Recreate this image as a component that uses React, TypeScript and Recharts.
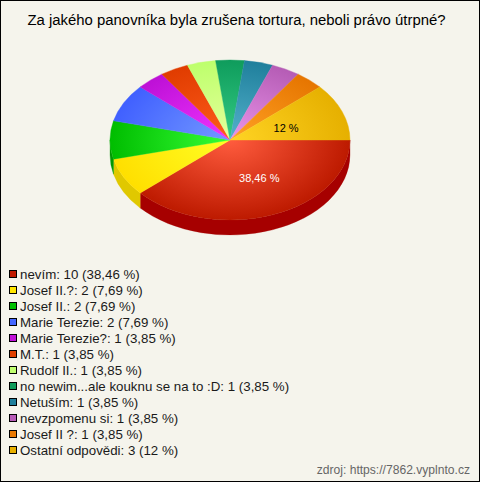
import { Legend, Pie, PieChart } from "recharts";

const answers = [
  "nevím",
  "Josef II.?",
  "Josef II.",
  "Marie Terezie",
  "Marie Terezie?",
  "M.T.",
  "Rudolf II.",
  "no newim...ale kouknu se na to :D",
  "Netuším",
  "nevzpomenu si",
  "Josef II ?",
  "Ostatní odpovědi",
];
const counts = [10, 2, 2, 2, 1, 1, 1, 1, 1, 1, 1, 3];
const percents = ["38,46", "7,69", "7,69", "7,69", "3,85", "3,85", "3,85", "3,85", "3,85", "3,85", "3,85", "12"];
const innerColors = ["#ff5c3e", "#ffff24", "#36ff36", "#7499ff", "#f034ff", "#ff5c1c", "#e6ff9c", "#34cc84", "#54b2cc", "#ea94ea", "#ffa224", "#ffd424"];
const outerColors = ["#bd1a00", "#ffdf00", "#00bd00", "#4060ff", "#bd10d6", "#e03c00", "#bdff6c", "#0f9c5c", "#1f7f9c", "#b55cb5", "#e67500", "#e6b000"];
const wallColors = ["#a60000", "#e0c800", "#009a00", "#3048c0", "#9000a0", "#a83000", "#90c050", "#0a7044", "#165f75", "#884488", "#ac5800", "#ac8400"];
const swatchColors = ["#c01a00", "#ffe600", "#00c000", "#4466ff", "#c010d8", "#e04000", "#c0ff70", "#109c5c", "#207f9c", "#b85cb8", "#e87800", "#e8b000"];
const labelled = ["nevím", "Ostatní odpovědi"];

const data = answers.map((name, i) => ({ name, value: counts[i], percent: percents[i], index: i }));

const SQUASH = 2 / 3;
const DEPTH = 15;

const point = (cx: number, cy: number, r: number, deg: number) => {
  const a = (-deg * Math.PI) / 180;
  return [cx + r * Math.cos(a), cy + r * SQUASH * Math.sin(a)];
};

function EllipseSector(props: any) {
  const { cx, cy, outerRadius: r, startAngle, endAngle, payload } = props;
  const i = payload?.index ?? props.index;
  const rx = r;
  const ry = r * SQUASH;
  const [x0, y0] = point(cx, cy, r, startAngle);
  const [x1, y1] = point(cx, cy, r, endAngle);
  const large = Math.abs(endAngle - startAngle) > 180 ? 1 : 0;
  const top = `M${cx},${cy}L${x0},${y0}A${rx},${ry} 0 ${large} 1 ${x1},${y1}Z`;

  // side wall only where the slice faces the viewer, angles run 0 to -180 there
  const wallStart = Math.min(startAngle, 0);
  const wallEnd = Math.max(endAngle, -180);
  let wall = "";
  if (wallStart > wallEnd) {
    const [a0, b0] = point(cx, cy, r, wallStart);
    const [a1, b1] = point(cx, cy, r, wallEnd);
    wall = `M${a0},${b0}A${rx},${ry} 0 0 1 ${a1},${b1}L${a1},${b1 + DEPTH}A${rx},${ry} 0 0 0 ${a0},${b0 + DEPTH}Z`;
  }
  const id = `slice-${i}`;
  return (
    <g>
      <defs>
        <radialGradient
          id={id}
          gradientUnits="userSpaceOnUse"
          cx={0}
          cy={0}
          r={1}
          gradientTransform={`translate(${cx},${cy}) scale(${rx},${ry})`}
        >
          <stop offset="0%" stopColor={innerColors[i]} />
          <stop offset="100%" stopColor={outerColors[i]} />
        </radialGradient>
      </defs>
      {wall && <path d={wall} fill={wallColors[i]} stroke={wallColors[i]} strokeWidth={0.3} />}
      <path d={top} fill={`url(#${id})`} stroke={`url(#${id})`} strokeWidth={0.4} />
    </g>
  );
}

function sliceLabel(props: any) {
  const { cx, cy, outerRadius, midAngle, payload } = props;
  if (!labelled.includes(payload.name)) return null;
  const [x, y] = point(cx, cy, outerRadius * 0.5, midAngle);
  const isFirst = payload.index === 0;
  return (
    <text
      x={x + (isFirst ? 8 : 0)}
      y={y + (isFirst ? 2 : 3)}
      textAnchor="middle"
      dominantBaseline="middle"
      fontSize={11}
      fontFamily="Liberation Sans"
      fill={isFirst ? "#ffffff" : "#000000"}
    >
      {payload.percent} %
    </text>
  );
}

function LegendRows() {
  return (
    <div>
      {data.map((d, i) => (
        <div key={d.name} style={{ height: 16, display: "flex", alignItems: "center", whiteSpace: "nowrap" }}>
          <span
            style={{
              width: 6,
              height: 6,
              marginRight: 3,
              background: swatchColors[i],
              border: "1px solid #000",
              display: "inline-block",
            }}
          />
          <span>
            {d.name}: {d.value} ({d.percent} %)
          </span>
        </div>
      ))}
    </div>
  );
}

export default function App() {
  return (
    <div
      style={{
        position: "relative",
        width: 480,
        height: 482,
        boxSizing: "border-box",
        border: "1px solid #000",
        background: "#f5f4ec",
        fontFamily: "Liberation Sans",
        color: "#1a1a1a",
      }}
    >
      <style>{"body{margin:0}"}</style>
      <div style={{ position: "absolute", left: 0, top: 11, width: 471, textAlign: "center", fontSize: 14.9, color: "#000" }}>
        Za jakého panovníka byla zrušena tortura, neboli právo útrpné?
      </div>
      <div style={{ position: "absolute", left: 0, top: 0 }}>
        <PieChart width={478} height={480} margin={{ top: 0, right: 0, bottom: 0, left: 0 }}>
          <Pie
            data={data}
            dataKey="value"
            nameKey="name"
            cx={229}
            cy={139}
            innerRadius={0}
            outerRadius={120}
            startAngle={0}
            endAngle={-360}
            stroke="none"
            label={sliceLabel}
            labelLine={false}
            shape={EllipseSector}
            isAnimationActive={false}
          />
          <Legend
            content={LegendRows}
            wrapperStyle={{ position: "absolute", left: 8, top: 265, width: 400, fontSize: 13.3 }}
          />
        </PieChart>
      </div>
      <div style={{ position: "absolute", right: 9, top: 462, fontSize: 12.1, color: "#666" }}>
        zdroj: https://7862.vyplnto.cz
      </div>
    </div>
  );
}
